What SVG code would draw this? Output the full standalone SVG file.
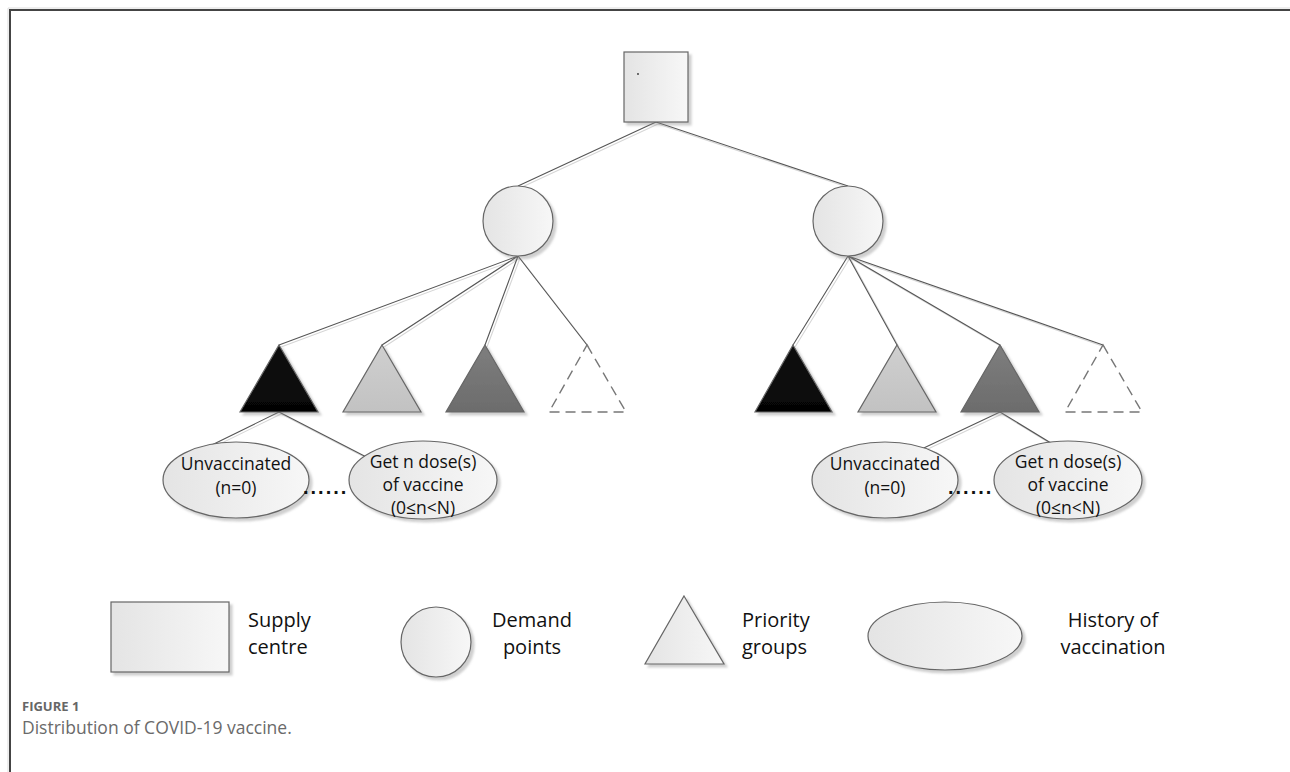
<svg xmlns="http://www.w3.org/2000/svg" width="1290" height="772" viewBox="0 0 1290 772">
<defs>
<linearGradient id="gLight" x1="0" y1="0" x2="1" y2="0">
<stop offset="0" stop-color="#e4e4e4"/><stop offset="1" stop-color="#f7f7f7"/>
</linearGradient>
<linearGradient id="gBlack" x1="0" y1="0" x2="0" y2="1">
<stop offset="0" stop-color="#111"/><stop offset="1" stop-color="#050505"/>
</linearGradient>
<linearGradient id="gGray" x1="0" y1="0" x2="0" y2="1">
<stop offset="0" stop-color="#cfcfcf"/><stop offset="1" stop-color="#c2c2c2"/>
</linearGradient>
<linearGradient id="gDark" x1="0" y1="0" x2="0" y2="1">
<stop offset="0" stop-color="#7e7e7e"/><stop offset="1" stop-color="#6c6c6c"/>
</linearGradient>
<filter id="sh" x="-20%" y="-20%" width="150%" height="150%">
<feDropShadow dx="3" dy="3" stdDeviation="1.2" flood-color="#888" flood-opacity="0.4"/>
</filter>
</defs>
<style>
.shape{stroke:#666;stroke-width:1.2;filter:url(#sh)}
.light{fill:url(#gLight)}
.ln{stroke:#555;stroke-width:1.1;fill:none}
.lns{stroke:#d6d6d6;stroke-width:1.1;fill:none}
.t{font-family:"Open Sans","Liberation Sans",sans-serif;font-size:17.5px;fill:#111;text-anchor:middle}
.lg{font-family:"Open Sans","Liberation Sans",sans-serif;font-size:20px;fill:#111}
.dots{font-family:"Liberation Sans",sans-serif;font-size:20px;font-weight:bold;fill:#111;letter-spacing:2px}
.cap1{font-family:"Open Sans","Liberation Sans",sans-serif;font-size:13px;font-weight:bold;fill:#666}
.cap2{font-family:"Open Sans","Liberation Sans",sans-serif;font-size:17.5px;fill:#6a6a6a}
</style>
<rect width="1290" height="772" fill="#fff"/>
<path d="M10,772 V10 H1290" fill="none" stroke="#444" stroke-width="2"/>
<path d="M8,772 V8 H1290" fill="none" stroke="#ddd" stroke-width="1"/>

<g id="connectors">
<g transform="translate(2,2)">
<path class="lns" d="M656,122 L518,186 M656,122 L848,186"/>
<path class="lns" d="M518,256 L279,345 M518,256 L382,345 M518,256 L485,345 M518,256 L587,345"/>
<path class="lns" d="M848,256 L793,345 M848,256 L897,345 M848,256 L1000,345 M848,256 L1103,345"/>
<path class="lns" d="M279,412 L175,463 M279,412 L376,462 M1000,412 L892,463 M1000,412 L1082,462"/>
</g>
<path class="ln" d="M656,122 L518,186 M656,122 L848,186"/>
<path class="ln" d="M518,256 L279,345 M518,256 L382,345 M518,256 L485,345 M518,256 L587,345"/>
<path class="ln" d="M848,256 L793,345 M848,256 L897,345 M848,256 L1000,345 M848,256 L1103,345"/>
<path class="ln" d="M279,412 L175,463 M279,412 L376,462 M1000,412 L892,463 M1000,412 L1082,462"/>
</g>

<g id="supply">
<rect class="shape light" x="624" y="52" width="64" height="70"/>
<circle cx="638" cy="74" r="0.9" fill="#333"/>
</g>

<g id="demand-left"><circle class="shape light" cx="518" cy="221" r="35"/></g>
<g id="demand-right"><circle class="shape light" cx="848" cy="221" r="35"/></g>

<g id="group-l1"><polygon class="shape" fill="url(#gBlack)" points="279,345 318,412 240,412"/></g>
<g id="group-l2"><polygon class="shape" fill="url(#gGray)" points="382,345 421,412 343,412"/></g>
<g id="group-l3"><polygon class="shape" fill="url(#gDark)" points="485,345 524,412 446,412"/></g>
<g id="group-l4"><polygon fill="#fff" stroke="#777" stroke-width="1.4" stroke-dasharray="10,6" points="587,345 626,412 549,412"/></g>

<g id="group-r1"><polygon class="shape" fill="url(#gBlack)" points="793,345 832,412 755,412"/></g>
<g id="group-r2"><polygon class="shape" fill="url(#gGray)" points="897,345 936,412 858,412"/></g>
<g id="group-r3"><polygon class="shape" fill="url(#gDark)" points="1000,345 1039,412 961,412"/></g>
<g id="group-r4"><polygon fill="#fff" stroke="#777" stroke-width="1.4" stroke-dasharray="10,6" points="1103,345 1142,412 1065,412"/></g>

<g id="hist-l1">
<ellipse class="shape light" cx="236" cy="480" rx="73" ry="38"/>
<text class="t" x="236" y="470">Unvaccinated</text>
<text class="t" x="236" y="494">(n=0)</text>
</g>
<g id="hist-l2">
<ellipse class="shape light" cx="423" cy="480" rx="74" ry="39"/>
<text class="t" x="423" y="468">Get n dose(s)</text>
<text class="t" x="423" y="491">of vaccine</text>
<text class="t" x="423" y="514">(0≤n&lt;N)</text>
</g>
<text class="dots" x="303" y="494">......</text>

<g id="hist-r1">
<ellipse class="shape light" cx="885" cy="480" rx="73" ry="38"/>
<text class="t" x="885" y="470">Unvaccinated</text>
<text class="t" x="885" y="494">(n=0)</text>
</g>
<g id="hist-r2">
<ellipse class="shape light" cx="1068" cy="480" rx="74" ry="39"/>
<text class="t" x="1068" y="468">Get n dose(s)</text>
<text class="t" x="1068" y="491">of vaccine</text>
<text class="t" x="1068" y="514">(0≤n&lt;N)</text>
</g>
<text class="dots" x="948" y="494">......</text>

<g id="legend-supply">
<rect class="shape light" x="111" y="602" width="118" height="70"/>
<text class="lg" x="248" y="627">Supply</text>
<text class="lg" x="248" y="654">centre</text>
</g>
<g id="legend-demand">
<circle class="shape light" cx="436" cy="642" r="35"/>
<text class="lg" x="532" y="627" text-anchor="middle">Demand</text>
<text class="lg" x="532" y="654" text-anchor="middle">points</text>
</g>
<g id="legend-priority">
<polygon class="shape light" points="684,596 724,664 645,664"/>
<text class="lg" x="742" y="627">Priority</text>
<text class="lg" x="742" y="654">groups</text>
</g>
<g id="legend-history">
<ellipse class="shape light" cx="945" cy="636" rx="77" ry="34"/>
<text class="lg" x="1113" y="627" text-anchor="middle">History of</text>
<text class="lg" x="1113" y="654" text-anchor="middle">vaccination</text>
</g>

<text class="cap1" x="22" y="711">FIGURE 1</text>
<text class="cap2" x="22" y="734">Distribution of COVID-19 vaccine.</text>
</svg>
